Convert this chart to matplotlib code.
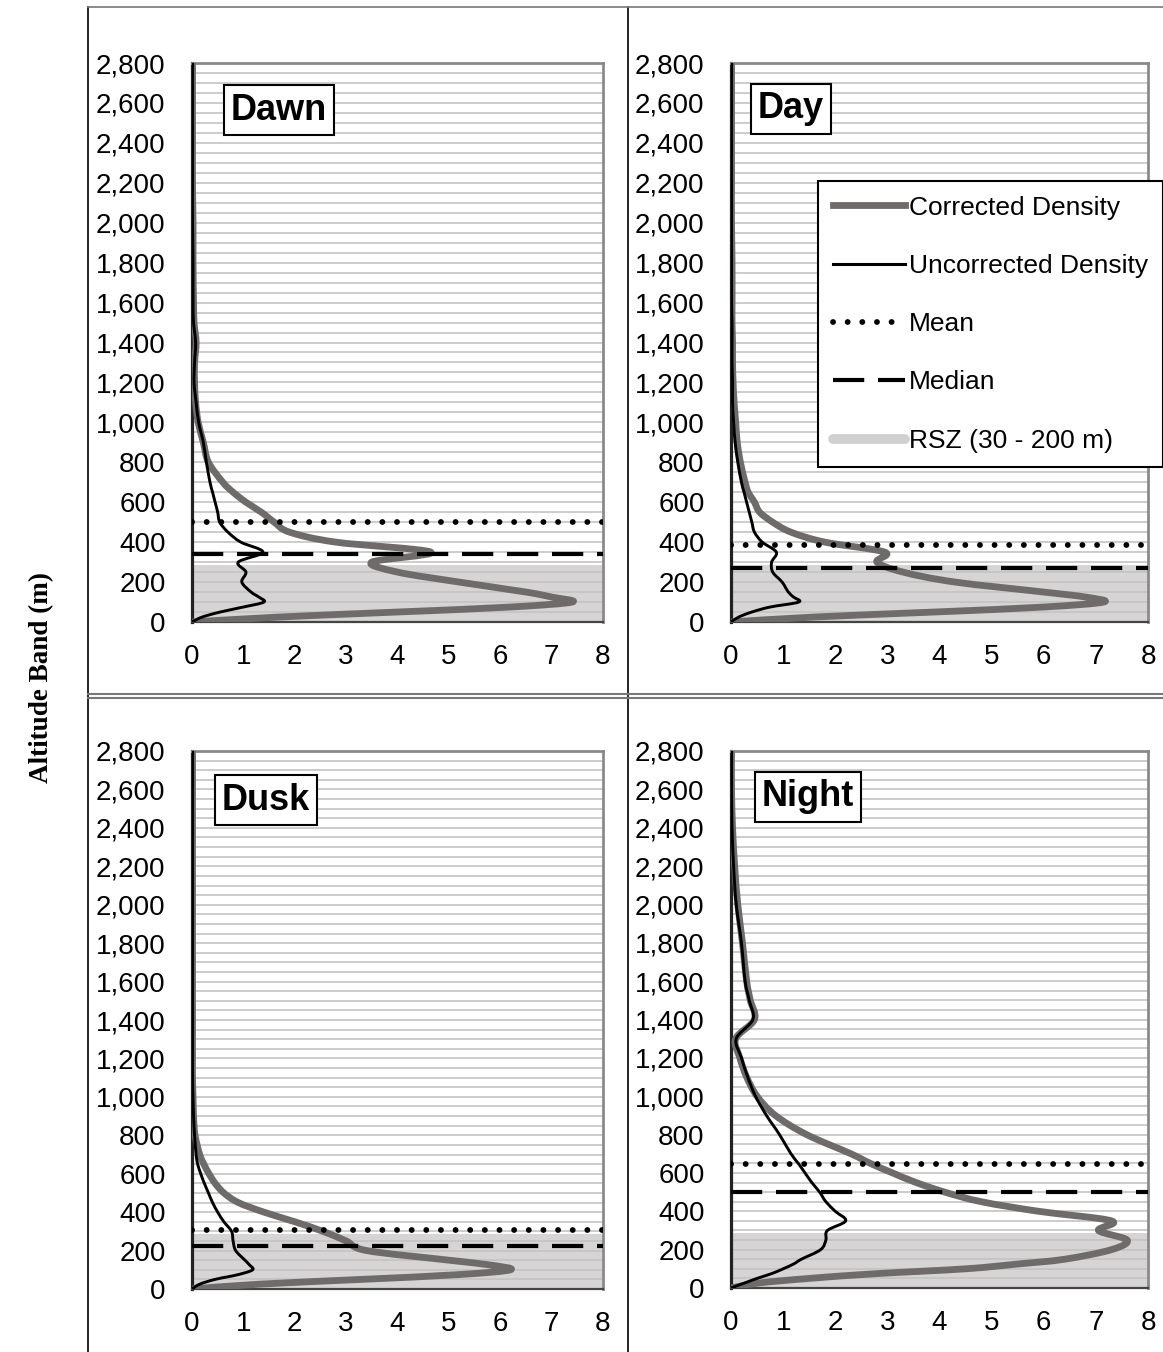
import numpy as np
import matplotlib.pyplot as plt
from matplotlib.lines import Line2D
from matplotlib.path import Path
from matplotlib.patches import PathPatch
from matplotlib.ticker import MultipleLocator, FuncFormatter

plt.rcParams['font.family'] = ['Liberation Sans', 'DejaVu Sans']

# altitude bands (m)
alt = [0, 25, 50, 75, 100, 125, 150, 200, 250, 300, 350, 400, 450, 500, 550, 600,
       650, 700, 800, 900, 1000, 1100, 1200, 1300, 1400, 1500, 1600, 1800, 2000,
       2200, 2400, 2600, 2800]

dawn_corr = [0, 1.7, 4.0, 6.2, 7.4, 7.0, 6.5, 5.2, 4.0, 3.5, 4.65, 2.8, 1.9, 1.6, 1.35, 1.05,
             0.8, 0.6, 0.32, 0.22, 0.12, 0.07, 0.05, 0.05, 0.08, 0.04, 0.03, 0.02, 0.02,
             0.01, 0.01, 0.01, 0.01]
dawn_unc = [0, 0.2, 0.55, 1.0, 1.4, 1.3, 1.15, 0.97, 1.05, 0.9, 1.38, 0.95, 0.7, 0.54, 0.5, 0.45,
            0.4, 0.35, 0.28, 0.22, 0.13, 0.08, 0.04, 0.05, 0.07, 0.03, 0.02, 0.02, 0.01,
            0.01, 0.01, 0.01, 0.01]
day_corr = [0, 1.6, 3.9, 6.0, 7.15, 6.8, 6.0, 4.3, 3.3, 2.8, 2.95, 1.8, 1.15, 0.8, 0.55, 0.45,
            0.33, 0.27, 0.18, 0.12, 0.09, 0.06, 0.04, 0.03, 0.03, 0.02, 0.02, 0.02, 0.01,
            0.01, 0.01, 0.01, 0.01]
day_unc = [0, 0.15, 0.4, 0.75, 1.3, 1.2, 1.1, 0.98, 0.8, 0.78, 0.87, 0.6, 0.45, 0.4, 0.35, 0.3,
           0.25, 0.2, 0.13, 0.08, 0.05, 0.03, 0.03, 0.02, 0.02, 0.02, 0.01, 0.01, 0.01,
           0.01, 0.01, 0.01, 0.01]
dusk_corr = [0, 1.3, 3.3, 5.2, 6.2, 5.8, 5.0, 3.4, 3.0, 2.55, 2.0, 1.4, 0.9, 0.62, 0.45, 0.33,
             0.23, 0.15, 0.06, 0.03, 0.02, 0.01, 0.01, 0.01, 0.01, 0.01, 0.01, 0.01, 0.01,
             0.01, 0.01, 0.01, 0.01]
dusk_unc = [0, 0.15, 0.45, 0.9, 1.18, 1.12, 1.03, 0.85, 0.8, 0.77, 0.62, 0.5, 0.4, 0.32, 0.24, 0.17,
            0.11, 0.08, 0.05, 0.03, 0.02, 0.01, 0.01, 0.01, 0.01, 0.01, 0.01, 0.01, 0.01,
            0.01, 0.01, 0.01, 0.01]
night_corr = [0, 0.5, 1.5, 2.8, 4.5, 5.5, 6.4, 7.3, 7.6, 7.05, 7.3, 5.9, 4.8, 4.1, 3.55, 3.1,
              2.67, 2.3, 1.45, 0.85, 0.5, 0.3, 0.17, 0.09, 0.45, 0.37, 0.3, 0.22, 0.13,
              0.07, 0.03, 0.01, 0.01]
night_unc = [0, 0.25, 0.5, 0.78, 1.0, 1.2, 1.35, 1.72, 1.82, 1.85, 2.2, 2.0, 1.82, 1.7, 1.55, 1.42,
             1.29, 1.15, 0.93, 0.68, 0.47, 0.32, 0.2, 0.1, 0.42, 0.35, 0.27, 0.2, 0.1,
             0.05, 0.02, 0.01, 0.01]

titles = ['Dawn', 'Day', 'Dusk', 'Night']
corrected = [dawn_corr, day_corr, dusk_corr, night_corr]
uncorrected = [dawn_unc, day_unc, dusk_unc, night_unc]
means = [500, 385, 305, 645]
medians = [340, 270, 225, 500]
rsz_top = 285

GRAY = '#6f6b6b'
SHADE = '#d6d4d4'
RSZ_HANDLE = '#d0d0d0'
dotted = (0, (0.01, 2.5))
dashed = (0, (7.5, 3.3))


def smooth_line(ax, xs, ys, **kw):
    # smoothed line like the spreadsheet "smoothed line" option (Catmull-Rom bezier)
    p = np.column_stack([xs, ys]).astype(float)
    n = len(p)
    verts = [p[0]]
    codes = [Path.MOVETO]
    for k in range(n - 1):
        p0 = p[k - 1] if k > 0 else p[k]
        p3 = p[k + 2] if k + 2 < n else p[k + 1]
        c1 = p[k] + (p[k + 1] - p0) / 6
        c2 = p[k + 1] - (p3 - p[k]) / 6
        verts += [c1, c2, p[k + 1]]
        codes += [Path.CURVE4] * 3
    ax.add_patch(PathPatch(Path(verts, codes), fill=False, **kw))


W, H = 1163, 1352
fig = plt.figure(figsize=(W / 100, H / 100), dpi=100)

# pixel boxes of each plot area: x0, x1, ytop, ybottom
boxes = [(192, 603, 63, 622), (731, 1148, 63, 622),
         (192, 603, 751, 1289), (731, 1148, 751, 1288)]
title_pos = [(279, 110), (791, 109), (266, 800), (808, 797)]

for i in range(4):
    x0, x1, yt, yb = boxes[i]
    ax = fig.add_axes([x0 / W, 1 - yb / H, (x1 - x0) / W, (yb - yt) / H])
    ax.set_xlim(0, 8)
    ax.set_ylim(0, 2800)
    ax.yaxis.set_major_locator(MultipleLocator(200))
    ax.yaxis.set_minor_locator(MultipleLocator(50))
    ax.xaxis.set_major_locator(MultipleLocator(1))
    ax.yaxis.set_major_formatter(FuncFormatter(lambda v, p: f'{int(v):,}'))
    ax.set_axisbelow(True)
    ax.grid(True, which='both', axis='y', color='#c4c4c4', lw=1.2)
    ax.axhspan(0, rsz_top, color=SHADE, zorder=0.2, lw=0)
    ax.tick_params(which='both', length=0, labelsize=20)
    ax.tick_params(axis='y', pad=19)
    ax.tick_params(axis='x', pad=16)

    smooth_line(ax, corrected[i], alt, ec=GRAY, lw=4.9, joinstyle='round',
                capstyle='round', zorder=3)
    smooth_line(ax, uncorrected[i], alt, ec='black', lw=2.1, joinstyle='round', zorder=4)
    ax.axhline(means[i], color='black', lw=4.2, linestyle=dotted,
               dash_capstyle='round', zorder=5)
    ax.axhline(medians[i], color='black', lw=3.0, linestyle=dashed, zorder=5)

    for s in ['top', 'right']:
        ax.spines[s].set_color('#8a8a8a')
        ax.spines[s].set_linewidth(2)
    ax.spines['left'].set_color('#222222')
    ax.spines['left'].set_linewidth(2.3)
    ax.spines['bottom'].set_color('#444444')
    ax.spines['bottom'].set_linewidth(1.6)

    tx, ty = title_pos[i]
    fig.text(tx / W, 1 - ty / H, titles[i], fontsize=26, fontweight='bold',
             ha='center', va='center', zorder=10,
             bbox=dict(boxstyle='square,pad=0.2', fc='white', ec='black', lw=1.5))

handles = [Line2D([], [], color=GRAY, lw=4.9),
           Line2D([], [], color='black', lw=2.2),
           Line2D([], [], color='black', lw=4.2, linestyle=dotted, dash_capstyle='round'),
           Line2D([], [], color='black', lw=3.0, linestyle=dashed),
           Line2D([], [], color=RSZ_HANDLE, lw=7, solid_capstyle='round')]
labels = ['Corrected Density', 'Uncorrected Density', 'Mean', 'Median', 'RSZ (30 - 200 m)']
leg = fig.legend(handles, labels, loc='upper left', bbox_to_anchor=(818 / W, 1 - 181 / H),
                 frameon=True, fancybox=False, edgecolor='black', framealpha=1,
                 fontsize=19, handlelength=2.75, handletextpad=0.15, labelspacing=1.3,
                 borderpad=0.55, borderaxespad=0)
leg.get_frame().set_linewidth(1.5)
leg.set_zorder(20)

fig.text(42 / W, 1 - 678 / H, 'Altitude Band (m)', rotation=90, ha='center', va='center',
         fontsize=19.5, fontweight='bold', family=['Liberation Serif', 'DejaVu Serif'])


# outer panel frames
def fline(xs, ys, color, lw):
    fig.add_artist(Line2D([x / W for x in xs], [1 - y / H for y in ys], color=color, lw=lw))


fline([88, 88], [7, 1352], 'black', 1.2)
fline([628, 628], [7, 1352], 'black', 1.2)
fline([88, 1163], [7, 7], '#777777', 1.2)
fline([88, 1163], [694, 694], '#777777', 1.5)
fline([88, 1163], [697.5, 697.5], '#777777', 1.5)

fig.savefig('out.png', dpi=100)
